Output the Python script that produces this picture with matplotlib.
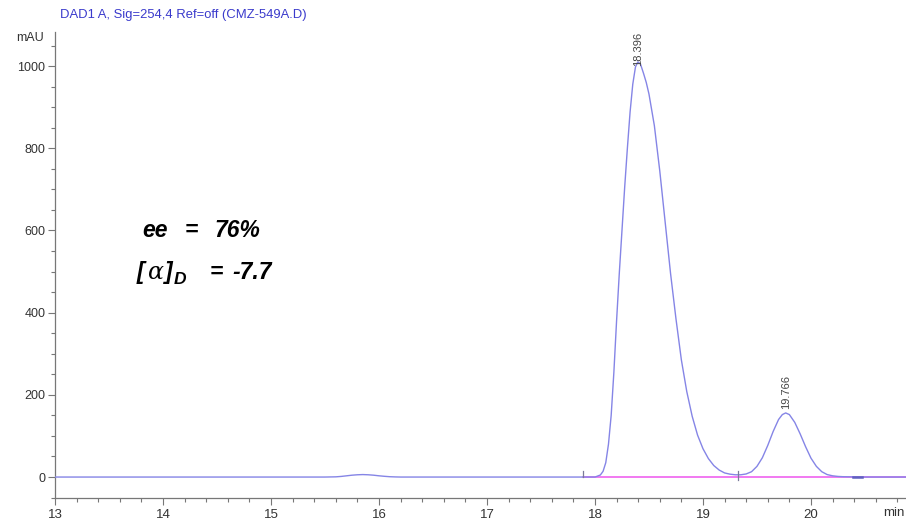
import matplotlib
matplotlib.use("Agg")
import matplotlib.pyplot as plt
from matplotlib.ticker import MultipleLocator

# Chromatogram trace (retention time in min, absorbance in mAU)
rt = [13.00, 15.50, 15.60, 15.65, 15.70, 15.75, 15.80, 15.85, 15.90, 15.95,
      16.00, 16.05, 16.10, 16.15, 16.20, 18.00, 18.05, 18.075, 18.10, 18.125,
      18.15, 18.175, 18.20, 18.225, 18.25, 18.275, 18.30, 18.325, 18.35, 18.375,
      18.396, 18.42, 18.45, 18.475, 18.50, 18.55, 18.60, 18.65, 18.70, 18.75,
      18.80, 18.85, 18.90, 18.95, 19.00, 19.05, 19.10, 19.15, 19.20, 19.25,
      19.30, 19.35, 19.40, 19.45, 19.50, 19.55, 19.60, 19.65, 19.70, 19.735,
      19.766, 19.80, 19.85, 19.90, 19.95, 20.00, 20.05, 20.10, 20.15, 20.20,
      20.25, 20.30, 20.40, 20.45, 20.88]
mau = [0, 0, 0.5, 1.5, 3, 4.5, 5.5, 6, 5.5, 4.5,
       3, 1.8, 0.8, 0.3, 0, 0, 5, 14, 35, 80,
       150, 255, 380, 495, 600, 705, 800, 888, 956, 998,
       1010, 1006, 982, 960, 932, 855, 745, 620, 495, 385,
       285, 208, 148, 102, 69, 45, 28, 17, 10, 7,
       5.5, 5.5, 7.5, 13, 26, 47, 77, 111, 140, 152,
       156, 152, 133, 105, 74, 46, 26, 13, 6, 3,
       1.5, 0.8, 0.3, 0, 0]

# Integrated peaks
peak_rt = [18.396, 19.766]
peak_height = [1010, 156]
peak_labels = ["18.396", "19.766"]

# Integration baseline and event markers
baseline_start = 17.89
baseline_end = 20.88
valley_rt = 19.32
peak_end = (20.39, 20.47)

x_ticks = [13, 14, 15, 16, 17, 18, 19, 20]
y_ticks = [0, 200, 400, 600, 800, 1000]

title = "DAD1 A, Sig=254,4 Ref=off (CMZ-549A.D)"

W, H = 906, 520
fig = plt.figure(figsize=(W / 100, H / 100), dpi=100)
ax = fig.add_axes([55 / W, (H - 498) / H, (W - 55) / W, (498 - 32) / H])
ax.set_xlim(13, 20.88)
ax.set_ylim(-51, 1083)

trace_col = "#8585e6"
ax.plot(rt, mau, color=trace_col, lw=1.0, zorder=3)
ax.plot([baseline_start, baseline_end], [0, 0], color="#ee55ee", lw=1.1, zorder=2)

# baseline event ticks
ax.plot([baseline_start, baseline_start], [0, 14], color="#7a7a9a", lw=0.9, zorder=4)
ax.plot([valley_rt, valley_rt], [-8, 14], color="#7a7a9a", lw=0.9, zorder=4)
ax.plot(list(peak_end), [0.5, 0.5], color="#6060c0", lw=1.8, zorder=4)

# retention time labels
offsets = [-4, 4]
for t, h, lab, off in zip(peak_rt, peak_height, peak_labels, offsets):
    ax.annotate(lab, xy=(t, h), xytext=(0, off), textcoords="offset pixels",
                rotation=90, ha="center", va="bottom", fontsize=8,
                color="#444444", family="Liberation Sans", zorder=5)

for side in ("top", "right"):
    ax.spines[side].set_visible(False)
for side in ("left", "bottom"):
    ax.spines[side].set_color("#777777")
    ax.spines[side].set_linewidth(0.9)

ax.set_xticks(x_ticks)
ax.set_yticks(y_ticks)
ax.xaxis.set_minor_locator(MultipleLocator(0.2))
ax.yaxis.set_minor_locator(MultipleLocator(50))
ax.tick_params(axis="both", which="major", direction="out", length=5,
               width=0.8, color="#777777", labelcolor="#333333")
ax.tick_params(axis="both", which="minor", direction="out", length=3,
               width=0.8, color="#777777")
ax.tick_params(axis="x", labelsize=9.5, pad=3)
ax.tick_params(axis="y", labelsize=9, pad=2)
for lab in ax.get_xticklabels() + ax.get_yticklabels():
    lab.set_family("Liberation Sans")

fig.text(44 / W, (H - 38) / H, "mAU", ha="right", va="center", fontsize=9,
         color="#333333", family="Liberation Sans")
fig.text(905 / W, (H - 513) / H, "min", ha="right", va="center", fontsize=9.5,
         color="#333333", family="Liberation Sans")
fig.text(60 / W, (H - 15) / H, title, ha="left", va="center", fontsize=9.4,
         color="#3a3acc", family="Liberation Sans")

# ee and optical rotation annotations
bold_it = dict(ha="left", va="baseline", fontsize=16.5, fontweight="bold",
               fontstyle="italic", family="Liberation Sans", color="black")


def px(x, y):
    return x / W, (H - y) / H


fig.text(*px(142, 237), "ee", **bold_it)
fig.text(*px(185, 237), "=", **bold_it)
fig.text(*px(214, 237), "76%", **bold_it)

fig.text(*px(137, 279), "[", **bold_it)
fig.text(*px(148, 279), "\u03b1", ha="left", va="baseline", fontsize=17,
         fontstyle="italic", family="DejaVu Serif", color="black")
fig.text(*px(165, 279), "]", **bold_it)
fig.text(*px(174, 284), "D", ha="left", va="baseline", fontsize=12.5,
         fontweight="bold", fontstyle="italic", family="Liberation Sans",
         color="black")
fig.text(*px(210, 279), "=", **bold_it)
fig.text(*px(232, 279), "-7.7", **bold_it)

fig.savefig("out.png", dpi=100)
